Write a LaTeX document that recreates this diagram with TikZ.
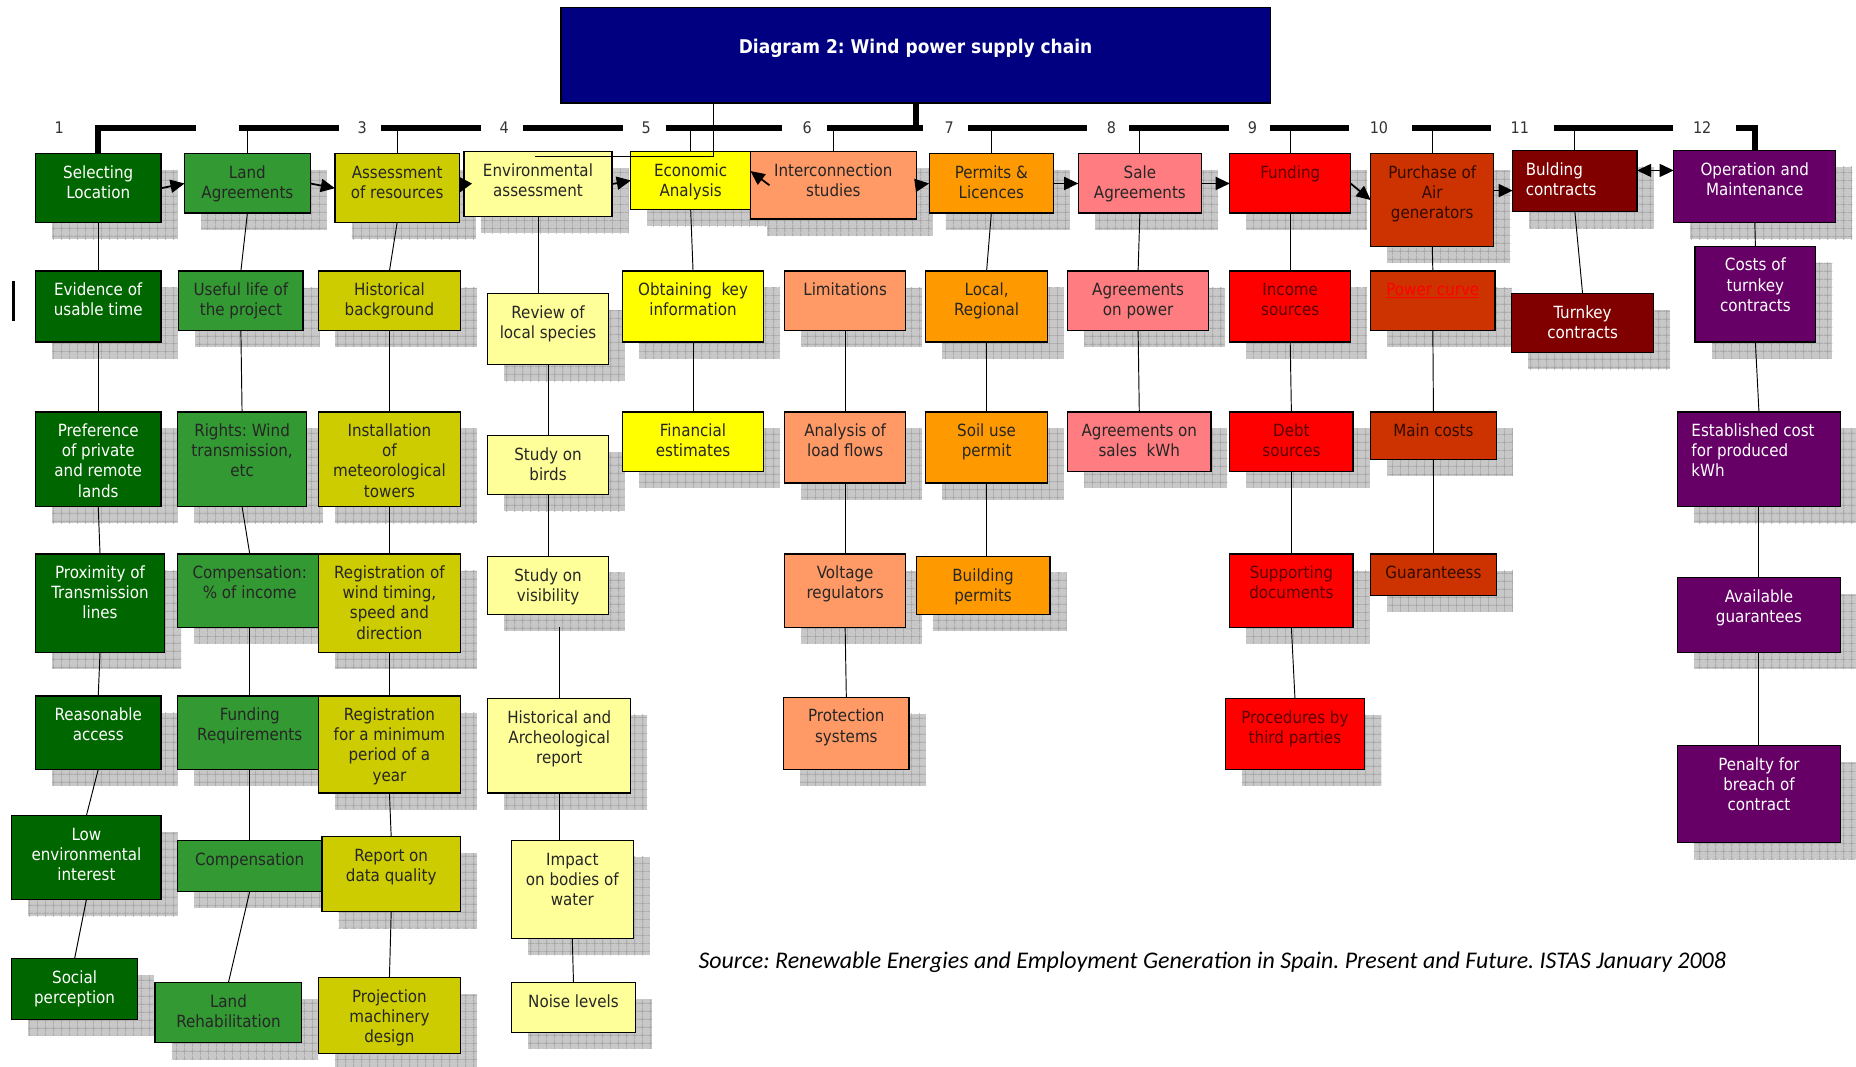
\documentclass[tikz,border=0pt]{standalone}
\usepackage{fontspec}
\setmainfont{DejaVu Sans Condensed}[BoldFont={DejaVu Sans Condensed Bold}]
\newfontfamily\srcfont{Carlito}
\usetikzlibrary{arrows.meta,patterns.meta}
\frenchspacing
\definecolor{cOne}{RGB}{0,102,0}
\definecolor{cTwo}{RGB}{51,153,51}
\definecolor{cThree}{RGB}{204,204,0}
\definecolor{cFour}{RGB}{255,255,153}
\definecolor{cFive}{RGB}{255,255,0}
\definecolor{cSix}{RGB}{255,153,102}
\definecolor{cSeven}{RGB}{255,153,0}
\definecolor{cEight}{RGB}{255,124,128}
\definecolor{cNine}{RGB}{255,0,0}
\definecolor{cTen}{RGB}{204,51,0}
\definecolor{cEleven}{RGB}{128,0,0}
\definecolor{cTwelve}{RGB}{102,0,102}
\definecolor{cNavy}{RGB}{0,0,128}
\definecolor{txRed}{RGB}{90,0,0}
\definecolor{txBrown}{RGB}{50,10,0}
\definecolor{shadeBg}{RGB}{200,200,200}
\definecolor{shadeLn}{RGB}{160,160,160}

% #1 alignment, #2 name, #3 x1, #4 y1, #5 x2, #6 y2, #7 style, #8 text
\newcommand\bx[8][\centering]{%
  \fill[shadowbg] ({#3+14},{#4+14}) rectangle ({#5+14},{#6+14});
  \fill[shadowgrid] ({#3+14},{#4+14}) rectangle ({#5+14},{#6+14});
  \node[boxst,#7] (#2) at ({(#3+#5)/2},{(#4+#6)/2})
    {\parbox[c][\dimexpr#6pt-#4pt\relax][t]{\dimexpr#5pt-#3pt\relax}{#1\vspace*{9pt}\strut{}#8\par}};%
}

\begin{document}
\begin{tikzpicture}[x=1pt,y=-1pt,
  boxst/.style={draw=black, line width=1pt, inner sep=0pt, outer sep=0pt, font=\fontsize{14.2}{17}\selectfont},
  shadowbg/.style={fill=shadeBg},
  shadowgrid/.style={pattern={Hatch[distance=6.5pt,line width=0.5pt]}, pattern color=shadeLn},
  gOne/.style={fill=cOne, text=white},
  gTwo/.style={fill=cTwo, text=black!85},
  gThree/.style={fill=cThree, text=black!85},
  gFour/.style={fill=cFour, text=black!85},
  gFive/.style={fill=cFive, text=black!85},
  gSix/.style={fill=cSix, text=black!85},
  gSeven/.style={fill=cSeven, text=black!85},
  gEight/.style={fill=cEight, text=black!85},
  gNine/.style={fill=cNine, text=txRed},
  gTen/.style={fill=cTen, text=txBrown},
  gEleven/.style={fill=cEleven, text=white},
  gTwelve/.style={fill=cTwelve, text=white},
  titlest/.style={fill=cNavy, draw=black, line width=1pt, inner sep=0pt, outer sep=0pt, text=white, font=\fontsize{16}{17}\selectfont\bfseries},
  numst/.style={inner sep=0pt, text=black!80, font=\fontsize{13.5}{15}\selectfont},
  barst/.style={line width=5pt, line join=miter},
  conn/.style={line width=0.8pt, black},
  arr/.style={line width=1.5pt, -{Triangle[length=12pt,width=11pt]}},
  darr/.style={line width=1.5pt, {Triangle[length=12pt,width=11pt]}-{Triangle[length=12pt,width=11pt]}},
  srcst/.style={inner sep=0pt, font=\srcfont\itshape\fontsize{20.2}{24}\selectfont}
]
\useasboundingbox (0,0) rectangle (1568,901);

% title
\node[titlest] (title) at (773.5,46.5) {\parbox[c][81pt][t]{599pt}{\centering\vspace*{27pt}\strut Diagram 2: Wind power supply chain\par}};

% column 1
\bx{s1a}{30}{130}{136}{188}{gOne}{Selecting\\Location}
\bx{s1b}{30}{229}{136}{289}{gOne}{Evidence of\\usable time}
\bx{s1c}{30}{348}{136}{428}{gOne}{Preference\\of private\\and remote\\lands}
\bx{s1d}{30}{468}{139}{551}{gOne}{Proximity of\\Transmission\\lines}
\bx{s1e}{30}{588}{136}{650}{gOne}{Reasonable\\access}
\bx{s1f}{10}{689}{136}{760}{gOne}{Low\\environmental\\interest}
\bx{s1g}{10}{810}{116}{861}{gOne}{Social\\perception}
% column 2
\bx{s2a}{156}{130}{262}{180}{gTwo}{Land\\Agreements}
\bx{s2b}{151}{229}{256}{279}{gTwo}{Useful life of\\the project}
\bx{s2c}{150}{348}{259}{428}{gTwo}{Rights: Wind\\transmission,\\etc}
\bx{s2d}{150}{468}{272}{530}{gTwo}{Compensation:\\\% of income}
\bx{s2e}{150}{588}{272}{650}{gTwo}{Funding\\Requirements}
\bx{s2f}{150}{710}{272}{753}{gTwo}{Compensation}
\bx{s2g}{131}{830}{255}{881}{gTwo}{Land\\Rehabilitation}
% column 3
\bx{s3a}{283}{130}{388}{188}{gThree}{Assessment\\of resources}
\bx{s3b}{269}{229}{389}{279}{gThree}{Historical\\background}
\bx{s3c}{269}{348}{389}{428}{gThree}{Installation\\of\\meteorological\\towers}
\bx{s3d}{269}{468}{389}{551}{gThree}{Registration of\\wind timing,\\speed and\\direction}
\bx{s3e}{269}{588}{389}{670}{gThree}{Registration\\for a minimum\\period of a\\year}
\bx{s3f}{272}{707}{389}{770}{gThree}{Report on\\data quality}
\bx{s3g}{269}{826}{389}{890}{gThree}{Projection\\machinery\\design}
% column 4
\bx{s4a}{392}{128}{517}{183}{gFour}{Environmental\\assessment}
\bx{s4b}{412}{248}{514}{308}{gFour}{Review of\\local species}
\bx{s4c}{412}{368}{514}{418}{gFour}{Study on\\birds}
\bx{s4d}{412}{470}{514}{519}{gFour}{Study on\\visibility}
\bx{s4e}{412}{590}{533}{670}{gFour}{Historical and\\Archeological\\report}
\bx{s4f}{432}{710}{535}{793}{gFour}{Impact\\on bodies of\\water}
\bx{s4g}{432}{830}{537}{872}{gFour}{Noise levels}
% column 5
\bx{s5a}{533}{128}{634}{177}{gFive}{Economic\\Analysis}
\bx{s5b}{526}{229}{645}{289}{gFive}{Obtaining~~key\\information}
\bx{s5c}{526}{348}{645}{398}{gFive}{Financial\\estimates}
% column 6
\bx{s6a}{634}{128}{774}{185}{gSix}{Interconnection\\studies}
\bx{s6b}{663}{229}{765}{279}{gSix}{Limitations}
\bx{s6c}{663}{348}{765}{408}{gSix}{Analysis of\\load flows}
\bx{s6d}{663}{468}{765}{530}{gSix}{Voltage\\regulators}
\bx{s6e}{662}{589}{768}{650}{gSix}{Protection\\systems}
% column 7
\bx{s7a}{785}{130}{890}{180}{gSeven}{Permits \&\\Licences}
\bx{s7b}{782}{229}{885}{289}{gSeven}{Local,\\Regional}
\bx{s7c}{782}{348}{885}{408}{gSeven}{Soil use\\permit}
\bx{s7d}{774}{470}{887}{519}{gSeven}{Building\\permits}
% column 8
\bx{s8a}{911}{130}{1015}{180}{gEight}{Sale\\Agreements}
\bx{s8b}{902}{229}{1021}{279}{gEight}{Agreements\\on power}
\bx{s8c}{902}{348}{1023}{398}{gEight}{Agreements on\\sales~~kWh}
% column 9
\bx{s9a}{1039}{130}{1141}{180}{gNine}{Funding}
\bx{s9b}{1039}{229}{1141}{289}{gNine}{Income\\sources}
\bx{s9c}{1039}{348}{1143}{398}{gNine}{Debt\\sources}
\bx{s9d}{1039}{468}{1143}{530}{gNine}{Supporting\\documents}
\bx{s9e}{1035}{590}{1153}{650}{gNine}{Procedures by\\third parties}
% column 10
\bx{s10a}{1158}{130}{1262}{208}{gTen}{Purchase of\\Air\\generators}
\bx{s10b}{1158}{229}{1263}{279}{gTen}{\textcolor{red}{\underline{Power curve}}}
\bx{s10c}{1158}{348}{1264}{388}{gTen}{Main costs}
\bx{s10d}{1158}{468}{1264}{503}{gTen}{Guaranteess}
% column 11
\bx[\raggedright\leftskip=11pt\relax]{s11a}{1278}{127}{1383}{179}{gEleven}{Bulding\\contracts}
\bx{s11b}{1277}{248}{1397}{298}{gEleven}{Turnkey\\contracts}
% column 12
\bx{s12a}{1414}{127}{1551}{188}{gTwelve}{Operation and\\Maintenance}
\bx{s12b}{1432}{208}{1534}{289}{gTwelve}{Costs of\\turnkey\\contracts}
\bx[\raggedright\leftskip=12pt\relax]{s12c}{1417}{348}{1555}{428}{gTwelve}{Established cost\\for produced\\kWh}
\bx{s12d}{1417}{488}{1555}{551}{gTwelve}{Available\\guarantees}
\bx{s12e}{1417}{630}{1555}{712}{gTwelve}{Penalty for\\breach of\\contract}

% header bars and numbers
\coordinate (barline) at (0,108);
\draw[barst] (s1a.north) |- (166,108);
\foreach \a/\b in {202/286, 322/406, 442/526, 563/661, 699/780, 818/918, 954/1038, 1073/1140, 1193/1260, 1313/1413}
  \draw[barst] (\a,108) -- (\b,108);
\draw[barst] (1467,108) -| (s12a.north);
\draw[barst] (title.south) -- (title.south |- barline);
\foreach \n/\x in {1/50,3/306,4/426,5/546,6/682,7/802,8/939,9/1058,10/1165,11/1284,12/1438}
  \node[numst] (n\n) at (\x,108) {\n};
\foreach \s in {s2a,s3a,s5a,s6a,s7a,s8a,s9a,s10a,s11a}
  \draw[conn] (\s.north) -- (\s.north |- barline);

% thin line from title to environmental assessment
\coordinate (t1) at (603,87);
\coordinate (t2) at (603,132);
\coordinate (t3) at (452,132);
\draw[conn] (t1) -- (t2) -- (t3);

% vertical connectors
\foreach \a/\b in {s1a/s1b,s1b/s1c,s1c/s1d,s1d/s1e,s1e/s1f,s1f/s1g,
  s2a/s2b,s2b/s2c,s2c/s2d,s2d/s2e,s2e/s2f,s2f/s2g,
  s3a/s3b,s3b/s3c,s3c/s3d,s3d/s3e,s3e/s3f,s3f/s3g,
  s4b/s4c,s4c/s4d,s4f/s4g,
  s5a/s5b,s5b/s5c,
  s6b/s6c,s6c/s6d,s6d/s6e,
  s7a/s7b,s7b/s7c,
  s8a/s8b,s8b/s8c,
  s9a/s9b,s9b/s9c,s9c/s9d,s9d/s9e,
  s10a/s10b,s10b/s10c,s10c/s10d,
  s11a/s11b,
  s12a/s12b,s12b/s12c,s12c/s12d,s12d/s12e}
  \draw[conn] (\a.south) -- (\b.north);
\draw[conn] (s4a.south) -- (s4a.south |- s4b.north);
\draw[conn, shorten <=11pt] (s4e.north |- s4d.south) -- (s4e.north);
\draw[conn] (s4e.south) -- (s4e.south |- s4f.north);
\draw[conn] (s7c.south) -- (s7c.south |- s7d.north);

% horizontal arrows of the main chain
\draw[arr] (s1a.east) -- (s2a.west);
\draw[arr] (s2a.east) -- (s3a.west);
\draw[arr] (s4a.west) -- ([yshift=-4pt]s3a.east);
\draw[arr] (s4a.east) -- (s5a.west);
\draw[arr] ([xshift=16pt]s6a.west) -- ([yshift=8pt]s5a.east);
\draw[arr] (s6a.east) -- (s7a.west);
\draw[arr] (s7a.east) -- (s8a.west);
\draw[arr] (s8a.east) -- (s9a.west);
\draw[arr] (s9a.east) -- (s10a.west);
\draw[arr] ([yshift=8pt]s10a.east) -- ([yshift=-8pt]s11a.west);
\draw[darr] ([yshift=9pt]s11a.east) -- ([yshift=13.5pt]s12a.west);

% stray mark at left
\draw[line width=2.5pt] (11,237) -- (11,271);

% source
\node[srcst, anchor=base west] (src) at (590,818) {Source: Renewable Energies and Employment Generation in Spain. Present and Future. ISTAS January 2008};
\end{tikzpicture}
\end{document}
